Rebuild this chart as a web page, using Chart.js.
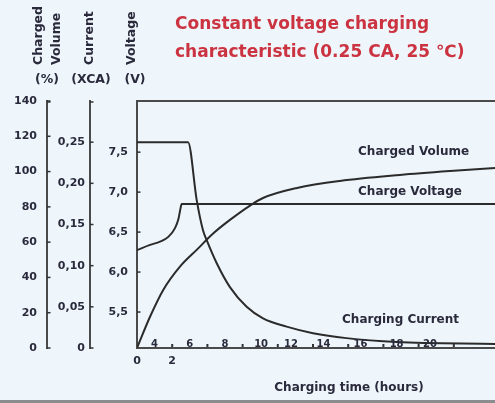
<!DOCTYPE html>
<html><head><meta charset="utf-8">
<script src="https://cdn.jsdelivr.net/npm/chart.js@4.4.0/dist/chart.umd.min.js"></script>
<style>html,body{margin:0;padding:0;background:#eef6fb;overflow:hidden}canvas{display:block}</style>
</head><body>
<canvas id="c" width="495" height="403"></canvas>
<script>
// ---- data ----
const hoursCurrent    = [0, 2.9, 3.39, 3.75, 3.96, 4.53, 5.28, 6.23, 7.16, 8.5, 10.0, 11.9, 14.76, 20.34];
const chargingCurrent = [0.25, 0.25, 0.18, 0.143, 0.131, 0.103, 0.074, 0.05, 0.036, 0.026, 0.018, 0.012, 0.0073, 0.005];
const hoursVoltage    = [0, 0.74, 1.31, 1.78, 2.16, 2.35, 2.44, 2.54, 20.34];
const chargeVoltage   = [6.275, 6.34, 6.38, 6.44, 6.55, 6.66, 6.76, 6.85, 6.85];
const hoursVolume     = [0, 0.74, 1.49, 2.44, 3.39, 4.34, 5.28, 6.4, 7.16, 9.09, 11.53, 14.94, 17.78, 20.34];
const chargedVolume   = [0, 17.7, 32.9, 46.1, 55.6, 65.0, 72.6, 80.6, 85.0, 90.7, 94.7, 98.1, 100.3, 102.0];

const volTicks = [0, 20, 40, 60, 80, 100, 120, 140];
const volTickLabels = ['0', '20', '40', '60', '80', '100', '120', '140'];
const curTicks = [0, 0.05, 0.10, 0.15, 0.20, 0.25];
const curTickLabels = ['0', '0,05', '0,10', '0,15', '0,20', '0,25'];
const voltTicks = [5.5, 6.0, 6.5, 7.0, 7.5];
const voltTickLabels = ['5,5', '6,0', '6,5', '7,0', '7,5'];
const xTicks = [0, 2, 4, 6, 8, 10, 12, 14, 16, 18];
const xBottomLabels = ['0', '2'];
const xInsideLabels = ['4', '6', '8', '10', '12', '14', '16', '18', '20'];
const xInsideLabelAt = [1.0, 3.0, 5.0, 7.05, 8.75, 10.6, 12.7, 14.75, 16.65];

const titleLines = ['Constant voltage charging', 'characteristic (0.25 CA, 25 \u2103)'];
const curveNames = ['Charged Volume', 'Charge Voltage', 'Charging Current'];
const xTitle = 'Charging time (hours)';

// ---- styles ----
const ink = '#2a2a3c';
const lineCol = '#2b2b2b';
const frameCol = '#4a4a4a';
const DV = '"DejaVu Sans", sans-serif';

const pts = (xs, ys) => xs.map((x, i) => ({x, y: ys[i]}));
const lineDs = (label, data, yAxisID) => ({
  label, data, yAxisID, xAxisID: 'x',
  borderColor: lineCol, borderWidth: 2, pointRadius: 0, fill: false,
  cubicInterpolationMode: 'monotone'
});

const tickFont = {family: DV, size: 11, weight: 'bold'};

function yAxis(min, max, ticks, labels, width, pad) {
  return {
    type: 'linear', position: 'left', min, max,
    afterBuildTicks: s => { s.ticks = ticks.map(v => ({value: v})); },
    afterFit: s => { s.width = width; },
    ticks: {autoSkip: false, padding: pad, color: ink, font: tickFont,
            callback: (v, i) => labels[i]},
    grid: {display: false, drawTicks: false},
    border: {display: true, color: frameCol, width: 2}
  };
}

const decor = {
  id: 'decor',
  afterDraw(chart) {
    const ctx = chart.ctx, a = chart.chartArea, sx = chart.scales.x;
    const sVol = chart.scales.yVol;
    ctx.save();
    // top frame line
    ctx.strokeStyle = frameCol; ctx.lineWidth = 2;
    ctx.beginPath(); ctx.moveTo(a.left - 1, a.top); ctx.lineTo(a.right, a.top); ctx.stroke();
    // small inward tick marks on the y axes
    ctx.lineWidth = 1.5; ctx.strokeStyle = '#333';
    ['yVol', 'yCur', 'yVolt'].forEach(id => {
      const s = chart.scales[id];
      const ys = s.ticks.map(t => s.getPixelForValue(t.value));
      if (id !== 'yVolt') ys.push(s.top + 1);
      ys.forEach(y => { ctx.beginPath(); ctx.moveTo(s.right, y); ctx.lineTo(s.right + 3.5, y); ctx.stroke(); });
    });
    // small dots above x axis
    ctx.fillStyle = '#333';
    sx.ticks.forEach(t => {
      if (t.value === 0) return;
      const x = sx.getPixelForValue(t.value);
      ctx.fillRect(x - 1, a.bottom - 4, 2, 3);
    });
    // labels sitting inside along the x axis
    ctx.fillStyle = ink; ctx.font = 'bold 10px ' + DV;
    ctx.textAlign = 'center'; ctx.textBaseline = 'middle';
    xInsideLabels.forEach((t, i) => ctx.fillText(t, sx.getPixelForValue(xInsideLabelAt[i]), a.bottom - 4));
    // curve names
    ctx.font = 'bold 12px ' + DV; ctx.textAlign = 'left';
    const namePos = [[12.56, 111.1], [12.56, 88.4], [11.65, 15.9]];
    curveNames.forEach((t, i) => ctx.fillText(t, sx.getPixelForValue(namePos[i][0]), sVol.getPixelForValue(namePos[i][1])));
    // x title
    ctx.textAlign = 'center';
    ctx.fillText(xTitle, 349, 388);
    // axis headers
    ctx.font = 'bold 12.5px ' + DV;
    [['Charged', 39], ['Volume', 56.5], ['Current', 90], ['Voltage', 131.5]].forEach(([t, x]) => {
      ctx.save(); ctx.translate(x, 65); ctx.rotate(-Math.PI / 2);
      ctx.textAlign = 'left'; ctx.textBaseline = 'middle'; ctx.fillText(t, 0, 0); ctx.restore();
    });
    ctx.textAlign = 'center'; ctx.font = 'bold 12.5px ' + DV;
    [['(%)', 47], ['(XCA)', 91], ['(V)', 135]].forEach(([t, x]) => ctx.fillText(t, x, 80));
    // main title
    ctx.fillStyle = '#cc3340'; ctx.textAlign = 'left';
    ctx.font = 'bold 17px ' + DV;
    ctx.fillText(titleLines[0], 175, 25);
    ctx.fillText(titleLines[1], 175, 53);
    // bottom band
    ctx.fillStyle = '#8a8c8e'; ctx.fillRect(0, 400, 495, 3);
    ctx.restore();
  }
};

new Chart(document.getElementById('c'), {
  type: 'line',
  data: {
    datasets: [
      lineDs('Charged Volume', pts(hoursVolume, chargedVolume), 'yVol'),
      lineDs('Charge Voltage', pts(hoursVoltage, chargeVoltage), 'yVolt'),
      lineDs('Charging Current', pts(hoursCurrent, chargingCurrent), 'yCur')
    ]
  },
  options: {
    responsive: false, animation: false, devicePixelRatio: 1,
    layout: {padding: {top: 101, left: 0, right: 0, bottom: 0}},
    plugins: {legend: {display: false}, tooltip: {enabled: false}},
    scales: {
      x: {
        type: 'linear', position: 'bottom', min: 0, max: 20.34,
        afterBuildTicks: s => { s.ticks = xTicks.map(v => ({value: v})); },
        afterFit: s => { s.height = 55; },
        ticks: {autoSkip: false, maxRotation: 0, padding: 7, color: ink,
                font: {family: DV, size: 11, weight: 'bold'},
                callback: (v, i) => (i < xBottomLabels.length ? xBottomLabels[i] : '')},
        grid: {display: false, drawTicks: false},
        border: {display: true, color: frameCol, width: 2}
      },
      yVolt: yAxis(5.05, 8.14, voltTicks, voltTickLabels, 47, 9),
      yCur: yAxis(0, 0.3, curTicks, curTickLabels, 43, 5),
      yVol: yAxis(0, 140, volTicks, volTickLabels, 47, 10)
    }
  },
  plugins: [decor]
});
</script>
</body></html>
